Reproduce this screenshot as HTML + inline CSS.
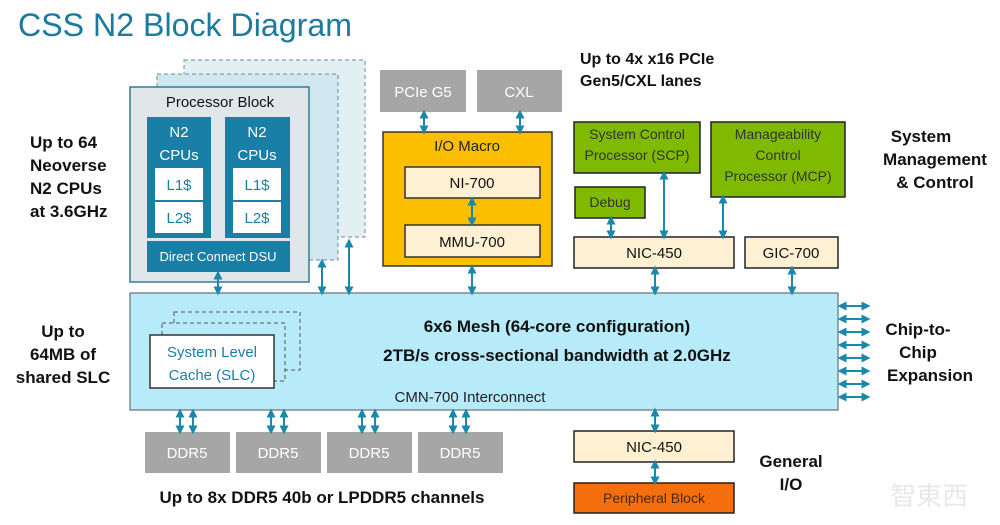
<!DOCTYPE html>
<html><head><meta charset="utf-8"><style>
html,body{margin:0;padding:0;background:#fff;}
svg{display:block;font-family:"Liberation Sans",sans-serif;}
</style></head><body>
<svg width="1000" height="525" viewBox="0 0 1000 525" xmlns="http://www.w3.org/2000/svg">
<defs>
<marker id="a" viewBox="0 0 10 10" refX="5" refY="5" markerWidth="4.5" markerHeight="4.5" orient="auto-start-reverse">
<path d="M0,0 L10,5 L0,10 z" fill="#1a88ad"/></marker>
</defs>
<rect width="1000" height="525" fill="#fff"/>
<text x="18" y="36" font-size="32" fill="#1a7aa0" textLength="334" lengthAdjust="spacingAndGlyphs">CSS N2 Block Diagram</text>

<rect x="184" y="60" width="181" height="177" fill="#e2f0f4" stroke="#6f8a94" stroke-dasharray="4,3"/>
<rect x="157" y="74" width="181" height="186" fill="#d0e7ef" stroke="#6f8a94" stroke-dasharray="4,3"/>
<rect x="130" y="87" width="179" height="195" fill="#dfe7ea" stroke="#2f7f95" stroke-width="1.5"/>
<text x="220" y="107" font-size="15" text-anchor="middle" fill="#111">Processor Block</text>
<rect x="147" y="117" width="64" height="121" fill="#1a7fa6"/>
<rect x="225" y="117" width="65" height="121" fill="#1a7fa6"/>
<rect x="147" y="241" width="143" height="31" fill="#1a7fa6"/>
<g fill="#fff" font-size="15" text-anchor="middle">
<text x="179" y="137">N2</text><text x="179" y="160">CPUs</text>
<text x="257" y="137">N2</text><text x="257" y="160">CPUs</text>
<text x="218" y="261" font-size="13">Direct Connect DSU</text></g>
<rect x="155" y="168" width="48" height="32" fill="#fff"/><rect x="155" y="202" width="48" height="31" fill="#fff"/>
<rect x="233" y="168" width="48" height="32" fill="#fff"/><rect x="233" y="202" width="48" height="31" fill="#fff"/>
<g fill="#1a7fa6" font-size="15" text-anchor="middle">
<text x="179" y="190">L1$</text><text x="179" y="223">L2$</text>
<text x="257" y="190">L1$</text><text x="257" y="223">L2$</text></g>

<rect x="380" y="70" width="86" height="42" fill="#a6a6a6"/>
<rect x="477" y="70" width="85" height="42" fill="#a6a6a6"/>
<text x="423" y="97" font-size="15" fill="#fff" text-anchor="middle">PCIe G5</text>
<text x="519" y="97" font-size="15" fill="#fff" text-anchor="middle">CXL</text>
<rect x="383" y="132" width="169" height="134" fill="#fbbf00" stroke="#333" stroke-width="1.5"/>
<text x="467" y="151" font-size="15" text-anchor="middle" fill="#222">I/O Macro</text>
<rect x="405" y="167" width="135" height="31" fill="#fdf0d3" stroke="#333" stroke-width="1.5"/>
<rect x="405" y="225" width="135" height="32" fill="#fdf0d3" stroke="#333" stroke-width="1.5"/>
<text x="472" y="188" font-size="15" text-anchor="middle" fill="#111">NI-700</text>
<text x="472" y="247" font-size="15" text-anchor="middle" fill="#111">MMU-700</text>
<text x="580" y="64" font-size="16" font-weight="bold" fill="#111">Up to 4x x16 PCIe</text>
<text x="580" y="86" font-size="16" font-weight="bold" fill="#111">Gen5/CXL lanes</text>

<rect x="574" y="122" width="126" height="51" fill="#7fba00" stroke="#222" stroke-width="1.5"/>
<text x="637" y="139" font-size="14" text-anchor="middle" fill="#333">System Control</text>
<text x="637" y="160" font-size="14" text-anchor="middle" fill="#333">Processor (SCP)</text>
<rect x="711" y="122" width="134" height="75" fill="#7fba00" stroke="#222" stroke-width="1.5"/>
<text x="778" y="139" font-size="14" text-anchor="middle" fill="#333">Manageability</text>
<text x="778" y="160" font-size="14" text-anchor="middle" fill="#333">Control</text>
<text x="778" y="181" font-size="14" text-anchor="middle" fill="#333">Processor (MCP)</text>
<rect x="575" y="187" width="70" height="31" fill="#7fba00" stroke="#222" stroke-width="1.5"/>
<text x="610" y="207" font-size="14" text-anchor="middle" fill="#333">Debug</text>
<rect x="574" y="237" width="160" height="31" fill="#fdf0d3" stroke="#222" stroke-width="1.5"/>
<text x="654" y="258" font-size="15" text-anchor="middle" fill="#111">NIC-450</text>
<rect x="745" y="237" width="93" height="31" fill="#fdf0d3" stroke="#222" stroke-width="1.5"/>
<text x="791" y="258" font-size="15" text-anchor="middle" fill="#111">GIC-700</text>
<g font-size="17" font-weight="bold" text-anchor="middle" fill="#111">
<text x="921" y="142">System</text><text x="935" y="165">Management</text><text x="935" y="188">&amp; Control</text>
<text x="918" y="335">Chip-to-</text><text x="918" y="358">Chip</text><text x="930" y="381">Expansion</text>
<text x="791" y="467">General</text><text x="791" y="490">I/O</text>
<text x="322" y="503">Up to 8x DDR5 40b or LPDDR5 channels</text>
</g>
<g font-size="17" font-weight="bold" fill="#111">
<text x="30" y="148">Up to 64</text><text x="30" y="171">Neoverse</text><text x="30" y="194">N2 CPUs</text><text x="30" y="217">at 3.6GHz</text>
</g>
<g font-size="17" font-weight="bold" fill="#111" text-anchor="middle">
<text x="63" y="337">Up to</text><text x="63" y="360">64MB of</text><text x="63" y="383">shared SLC</text>
</g>

<rect x="130" y="293" width="708" height="117" fill="#b7ebf9" stroke="#7b8b90" stroke-width="1.5"/>
<rect x="174" y="312" width="126" height="58" fill="none" stroke="#555" stroke-dasharray="4,3"/>
<rect x="162" y="323" width="123" height="58" fill="#b7ebf9" stroke="#555" stroke-dasharray="4,3"/>
<rect x="150" y="335" width="124" height="53" fill="#fff" stroke="#333" stroke-width="1.5"/>
<text x="212" y="357" font-size="15" text-anchor="middle" fill="#1a7fa6">System Level</text>
<text x="212" y="380" font-size="15" text-anchor="middle" fill="#1a7fa6">Cache (SLC)</text>
<text x="557" y="332" font-size="17" font-weight="bold" text-anchor="middle" fill="#111">6x6 Mesh (64-core configuration)</text>
<text x="557" y="361" font-size="17" font-weight="bold" text-anchor="middle" fill="#111">2TB/s cross-sectional bandwidth at 2.0GHz</text>
<text x="470" y="402" font-size="15" text-anchor="middle" fill="#222">CMN-700 Interconnect</text>

<g fill="#a6a6a6"><rect x="145" y="432" width="85" height="41"/><rect x="236" y="432" width="85" height="41"/><rect x="327" y="432" width="85" height="41"/><rect x="418" y="432" width="85" height="41"/></g>
<g font-size="15" fill="#fff" text-anchor="middle"><text x="187" y="458">DDR5</text><text x="278" y="458">DDR5</text><text x="369" y="458">DDR5</text><text x="460" y="458">DDR5</text></g>

<rect x="574" y="431" width="160" height="31" fill="#fdf0d3" stroke="#222" stroke-width="1.5"/>
<text x="654" y="452" font-size="15" text-anchor="middle" fill="#111">NIC-450</text>
<rect x="574" y="483" width="160" height="30" fill="#f56e0d" stroke="#222" stroke-width="1.5"/>
<text x="654" y="503" font-size="14" text-anchor="middle" fill="#4a2a10">Peripheral Block</text>
<text x="890" y="505" font-size="26" fill="#e8e8e8" font-family="'Noto Sans CJK SC',sans-serif">智東西</text>

<g stroke="#1a88ad" stroke-width="2" marker-start="url(#a)" marker-end="url(#a)">
<line x1="218" y1="275" x2="218" y2="291"/>
<line x1="322" y1="263" x2="322" y2="291"/>
<line x1="349" y1="243" x2="349" y2="291"/>
<line x1="424" y1="114" x2="424" y2="130"/>
<line x1="520" y1="114" x2="520" y2="130"/>
<line x1="472" y1="201" x2="472" y2="222"/>
<line x1="472" y1="269" x2="472" y2="291"/>
<line x1="611" y1="220" x2="611" y2="235"/>
<line x1="664" y1="175" x2="664" y2="235"/>
<line x1="723" y1="199" x2="723" y2="235"/>
<line x1="655" y1="270" x2="655" y2="291"/>
<line x1="792" y1="270" x2="792" y2="291"/>
<line x1="655" y1="412" x2="655" y2="429"/>
<line x1="655" y1="464" x2="655" y2="481"/>
<line x1="180" y1="413" x2="180" y2="430"/><line x1="193" y1="413" x2="193" y2="430"/>
<line x1="271" y1="413" x2="271" y2="430"/><line x1="284" y1="413" x2="284" y2="430"/>
<line x1="362" y1="413" x2="362" y2="430"/><line x1="375" y1="413" x2="375" y2="430"/>
<line x1="453" y1="413" x2="453" y2="430"/><line x1="466" y1="413" x2="466" y2="430"/>
<line x1="842" y1="306" x2="866" y2="306"/>
<line x1="842" y1="319" x2="866" y2="319"/>
<line x1="842" y1="332" x2="866" y2="332"/>
<line x1="842" y1="345" x2="866" y2="345"/>
<line x1="842" y1="358" x2="866" y2="358"/>
<line x1="842" y1="371" x2="866" y2="371"/>
<line x1="842" y1="384" x2="866" y2="384"/>
<line x1="842" y1="397" x2="866" y2="397"/>
</g>
</svg>
</body></html>
